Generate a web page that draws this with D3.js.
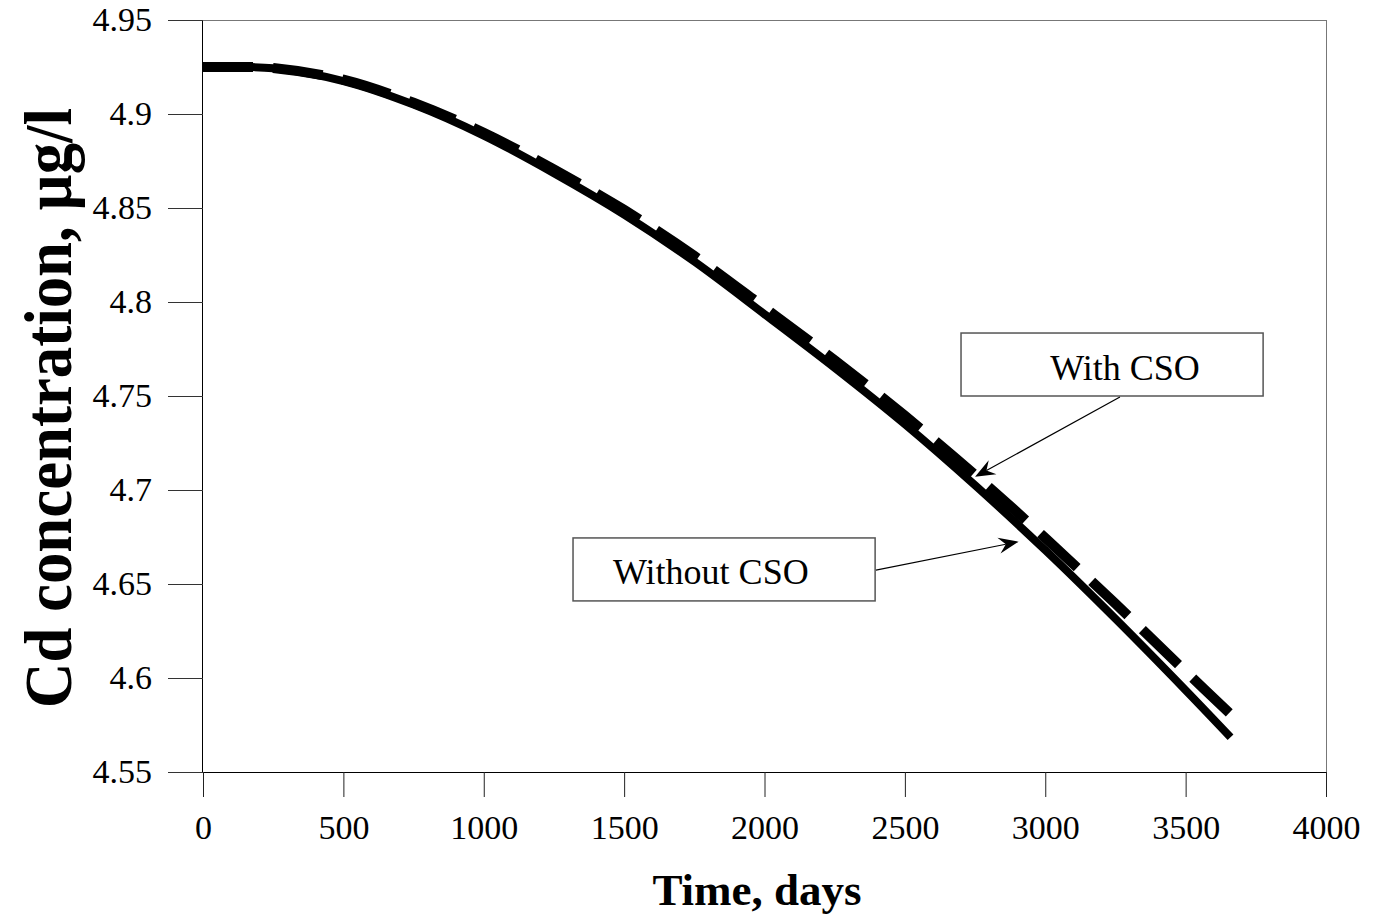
<!DOCTYPE html>
<html>
<head>
<meta charset="utf-8">
<script src="https://cdn.jsdelivr.net/npm/d3@7/dist/d3.min.js"></script>
<style>
  html, body { margin: 0; padding: 0; background: #fff; }
  svg { display: block; }
  text { font-family: "Liberation Serif", "Times New Roman", serif; fill: #000; }
</style>
</head>
<body>
<svg id="chart" width="1386" height="921"></svg>
<script>
// ---- data ----
const daysWithout = [0, 150, 250, 500, 750, 1000, 1250, 1500, 1750, 2000, 2250, 2500, 2750, 3000, 3250, 3500, 3660];
const concWithout = [4.925, 4.925, 4.9243, 4.9175, 4.905, 4.8885, 4.8685, 4.8465, 4.8215, 4.7935, 4.765, 4.735, 4.7025, 4.668, 4.6315, 4.5935, 4.5685];
const daysWith = [0, 150, 250, 500, 750, 1000, 1250, 1500, 1750, 2000, 2250, 2500, 2750, 3000, 3250, 3500, 3680];
const concWith = [4.925, 4.925, 4.9245, 4.9183, 4.906, 4.890, 4.8705, 4.849, 4.8245, 4.797, 4.769, 4.7395, 4.708, 4.6745, 4.6395, 4.6035, 4.578];
const xTicks = [0, 500, 1000, 1500, 2000, 2500, 3000, 3500, 4000];
const yTicks = [4.55, 4.6, 4.65, 4.7, 4.75, 4.8, 4.85, 4.9, 4.95];
const xTitle = "Time, days";
const yTitle = "Cd concentration, µg/l";
const seriesLabels = ["With CSO", "Without CSO"];
// annotation boxes in data units: [t0, t1, vTop, vBottom], label anchor [t, v], arrow [tFrom, vFrom, tTo, vTo]
const annWithBox = [2700, 3776, 4.7835, 4.750];
const annWithText = [3284, 4.7585];
const annWithArrow = [3266, 4.7495, 2750, 4.7070];
const annWithoutBox = [1318, 2394, 4.6745, 4.641];
const annWithoutText = [1809, 4.650];
const annWithoutArrow = [2397, 4.6574, 2905, 4.6725];

// ---- layout ----
const L = 203, R = 1326, T = 20, B = 772;
const svg = d3.select("#chart");
const x = d3.scaleLinear().domain([0, 4000]).range([L, R]);
const y = d3.scaleLinear().domain([4.55, 4.95]).range([B, T]);

// frame: top & right grey
svg.append("line").attr("x1", L).attr("x2", R).attr("y1", T + 0.5).attr("y2", T + 0.5)
  .attr("stroke", "#777").attr("stroke-width", 1);
svg.append("line").attr("x1", R + 0.5).attr("x2", R + 0.5).attr("y1", T).attr("y2", B)
  .attr("stroke", "#777").attr("stroke-width", 1);

// axes
const xAxis = d3.axisBottom(x).tickValues(xTicks).tickSize(25).tickPadding(18).tickFormat(d3.format("d"));
const gx = svg.append("g").attr("transform", `translate(0,${B})`).call(xAxis);
gx.select(".domain").attr("stroke", "#000").attr("d", `M${L},0.5H${R}`);
gx.selectAll(".tick line").attr("stroke", "#222");
gx.selectAll(".tick text").attr("font-size", 34).attr("font-family", "Liberation Serif").attr("fill", "#000");

const yAxis = d3.axisLeft(y).tickValues(yTicks).tickSize(35).tickPadding(16)
  .tickFormat(d => String(+d.toFixed(2)));
const gy = svg.append("g").attr("transform", `translate(${L},0)`).call(yAxis);
gy.select(".domain").attr("stroke", "#000").attr("d", `M-0.5,${T}V${B}`);
gy.selectAll(".tick line").attr("stroke", "#333");
gy.selectAll(".tick text").attr("font-size", 34).attr("font-family", "Liberation Serif").attr("fill", "#000");

// lines
const line = d3.line().x(d => x(d[0])).y(d => y(d[1])).curve(d3.curveCatmullRom.alpha(0.5));
const solid = daysWithout.map((d, i) => [d, concWithout[i]]);
const dashed = daysWith.map((d, i) => [d, concWith[i]]);
svg.append("path").datum(solid).attr("d", line)
  .attr("fill", "none").attr("stroke", "#000").attr("stroke-width", 8);
svg.append("path").datum(dashed).attr("d", line)
  .attr("fill", "none").attr("stroke", "#000").attr("stroke-width", 10)
  .attr("stroke-dasharray", "50,20");

// annotations
function arrow(a) {
  const x1 = x(a[0]), y1 = y(a[1]), x2 = x(a[2]), y2 = y(a[3]);
  const ang = Math.atan2(y2 - y1, x2 - x1);
  const len = 20, w = 8, notch = 13;
  const bx = x2 - len * Math.cos(ang), by = y2 - len * Math.sin(ang);
  const nx = x2 - notch * Math.cos(ang), ny = y2 - notch * Math.sin(ang);
  const px = -Math.sin(ang), py = Math.cos(ang);
  svg.append("line").attr("x1", x1).attr("y1", y1).attr("x2", nx).attr("y2", ny)
    .attr("stroke", "#000").attr("stroke-width", 1.2);
  svg.append("path")
    .attr("d", `M${x2},${y2}L${bx + px * w},${by + py * w}L${nx},${ny}L${bx - px * w},${by - py * w}Z`)
    .attr("fill", "#000");
}
function box(b, t, label) {
  svg.append("rect").attr("x", x(b[0])).attr("y", y(b[2]))
    .attr("width", x(b[1]) - x(b[0])).attr("height", y(b[3]) - y(b[2]))
    .attr("fill", "#fff").attr("stroke", "#555").attr("stroke-width", 1.5);
  svg.append("text").attr("x", x(t[0])).attr("y", y(t[1]))
    .attr("text-anchor", "middle").attr("font-size", 36).text(label);
}
box(annWithBox, annWithText, seriesLabels[0]);
arrow(annWithArrow);
box(annWithoutBox, annWithoutText, seriesLabels[1]);
arrow(annWithoutArrow);

// titles
svg.append("text").attr("x", 757).attr("y", 905).attr("text-anchor", "middle")
  .attr("font-size", 45).attr("font-weight", "bold").text(xTitle);
svg.append("text").attr("transform", "translate(71,408) rotate(-90)")
  .attr("text-anchor", "middle").attr("font-size", 68).attr("font-weight", "bold")
  .attr("textLength", 600).attr("lengthAdjust", "spacingAndGlyphs").text(yTitle);
</script>
</body>
</html>
